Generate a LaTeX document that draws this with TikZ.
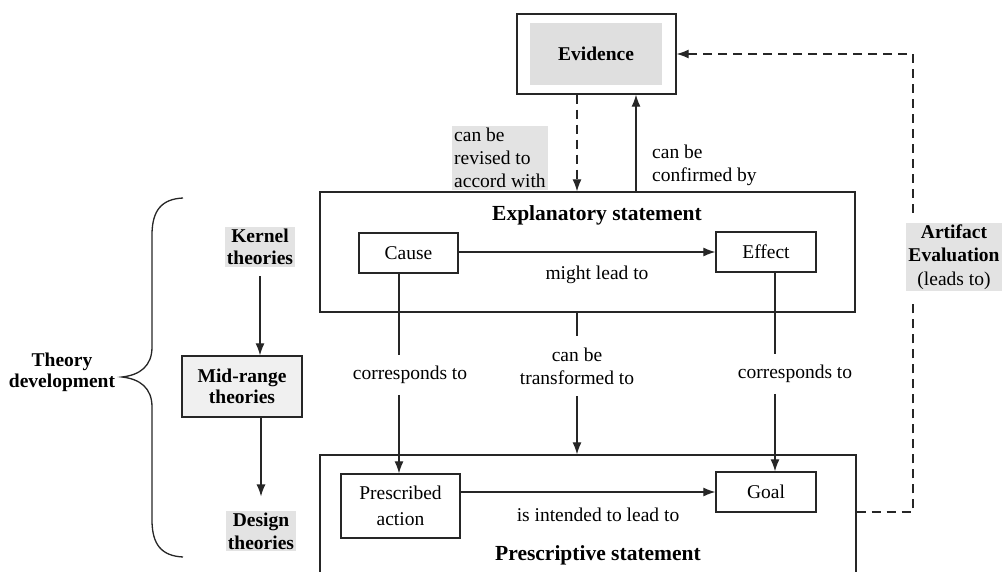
\documentclass[tikz,border=0pt]{standalone}
\usepackage{fontspec}
\setmainfont{Liberation Serif}
\usetikzlibrary{arrows.meta}
\begin{document}
\begin{tikzpicture}[x=1pt,y=-1pt,
  every node/.style={font=\fontsize{19.5}{23}\selectfont, inner sep=0pt, text=black},
  box/.style={draw=black!85, line width=1.3pt},
  hl/.style={fill=gray!22, inner sep=2pt},
  ttl/.style={font=\fontsize{21.5}{25}\selectfont\bfseries},
  arr/.style={draw=black!85, line width=1.2pt, -{Latex[length=12pt,width=9pt]}},
  conn/.style={draw=black!85, line width=1.2pt},
  dsh/.style={draw=black!85, line width=1.2pt, dash pattern=on 9pt off 6pt},
]
\useasboundingbox (0,0) rectangle (1002,572);

% Evidence
\node[box, minimum width=159pt, minimum height=80pt] (ev) at (596.5,54) {};
\node[fill=gray!25, minimum width=132pt, minimum height=62pt] (evt) at (596,54) {\textbf{Evidence}};

% Explanatory statement
\node[box, minimum width=535pt, minimum height=120pt] (exp) at (587.5,252) {};
\node[ttl] (expt) at (597,215) {Explanatory statement};
\node[box, minimum width=99pt, minimum height=40pt] (cause) at (408.5,253) {Cause};
\node[box, minimum width=100pt, minimum height=40pt] (effect) at (766,252) {Effect};
\draw[arr] (cause.east |- effect) -- (effect.west);
\node (mlt) at (597,275) {might lead to};

% Prescriptive statement
\node[box, minimum width=536pt, minimum height=120pt] (pre) at (588,515) {};
\node[ttl] (pret) at (598,555) {Prescriptive statement};
\node[box, minimum width=119pt, minimum height=64pt, align=center,
      font=\fontsize{19.5}{26}\selectfont] (act) at (400.5,506) {Prescribed\\action};
\node[box, minimum width=100pt, minimum height=40pt] (goal) at (766,492) {Goal};
\draw[arr] (act.east |- goal) -- (goal.west);
\node (iil) at (598,515) {is intended to lead to};

% vertical correspondences
\coordinate (lx) at (399,0);
\coordinate (rx) at (775,0);
\node[outer ysep=11pt] (c1) at (410,375) {corresponds to};
\node[outer ysep=11pt] (c2) at (795,374) {corresponds to};
\node[align=center, outer ysep=12pt] (tr) at (577,366) {can be\\transformed to};
\draw[conn] (cause.south -| lx) -- (lx |- c1.north);
\draw[arr] (lx |- c1.south) -- (lx |- act.north);
\draw[conn] (effect.south -| rx) -- (rx |- c2.north);
\draw[arr] (rx |- c2.south) -- (rx |- goal.north);
\draw[conn] (exp.south -| tr) -- (tr.north);
\draw[arr] (tr.south) -- (tr |- pre.north);

% Evidence links
\coordinate (ex1) at (577,0);
\coordinate (ex2) at (636,0);
\draw[dsh, -{Latex[length=12pt,width=9pt]}] (ev.south -| ex1) -- (exp.north -| ex1);
\draw[arr] (exp.north -| ex2) -- (ev.south -| ex2);
\node[hl, align=left, anchor=west] (rev) at (452,158) {can be\\revised to\\accord with};
\node[align=left, anchor=west] (conf) at (652,165) {can be\\confirmed by};

% Artifact evaluation feedback
\coordinate (f1) at (913,512);
\coordinate (f2) at (913,303);
\coordinate (f3) at (913,213);
\coordinate (f4) at (913,54);
\node[hl, align=center, font=\fontsize{19.5}{23.5}\selectfont] (art) at (954,257)
  {\textbf{Artifact}\\\textbf{Evaluation}\\(leads to)};
\draw[dsh] (pre.east |- f1) -- (f1) -- (f2);
\draw[dsh, -{Latex[length=12pt,width=9pt]}] (f3) -- (f4) -- (ev.east);

% Theory development side
\node[hl, align=center, font=\fontsize{19.5}{22}\selectfont] (ker) at (260,247) {\textbf{Kernel}\\\textbf{theories}};
\node[box, fill=gray!12, minimum width=120pt, minimum height=61pt, align=center,
      font=\fontsize{19.5}{21}\selectfont] (mid) at (242,386.5) {\textbf{Mid-range}\\\textbf{theories}};
\node[hl, align=center, font=\fontsize{19.5}{23}\selectfont] (des) at (261,531) {\textbf{Design}\\\textbf{theories}};
\draw[arr, shorten <=9pt] (ker.south) -- (ker.south |- mid.north);
\draw[arr, shorten >=14pt] (des.north |- mid.south) -- (des.north);
\node[align=center, font=\fontsize{19.5}{21}\selectfont] (td) at (62,372) {\textbf{Theory}\\\textbf{development}};

% brace
\draw[black!85, line width=1.3pt]
  (183,198) .. controls (162,199) and (152,210) .. (152,235) -- (152,347)
  .. controls (152,366) and (140,375) .. (122,377)
  .. controls (140,379) and (152,388) .. (152,407) -- (152,520)
  .. controls (152,545) and (162,556) .. (183,557);
\end{tikzpicture}
\end{document}
